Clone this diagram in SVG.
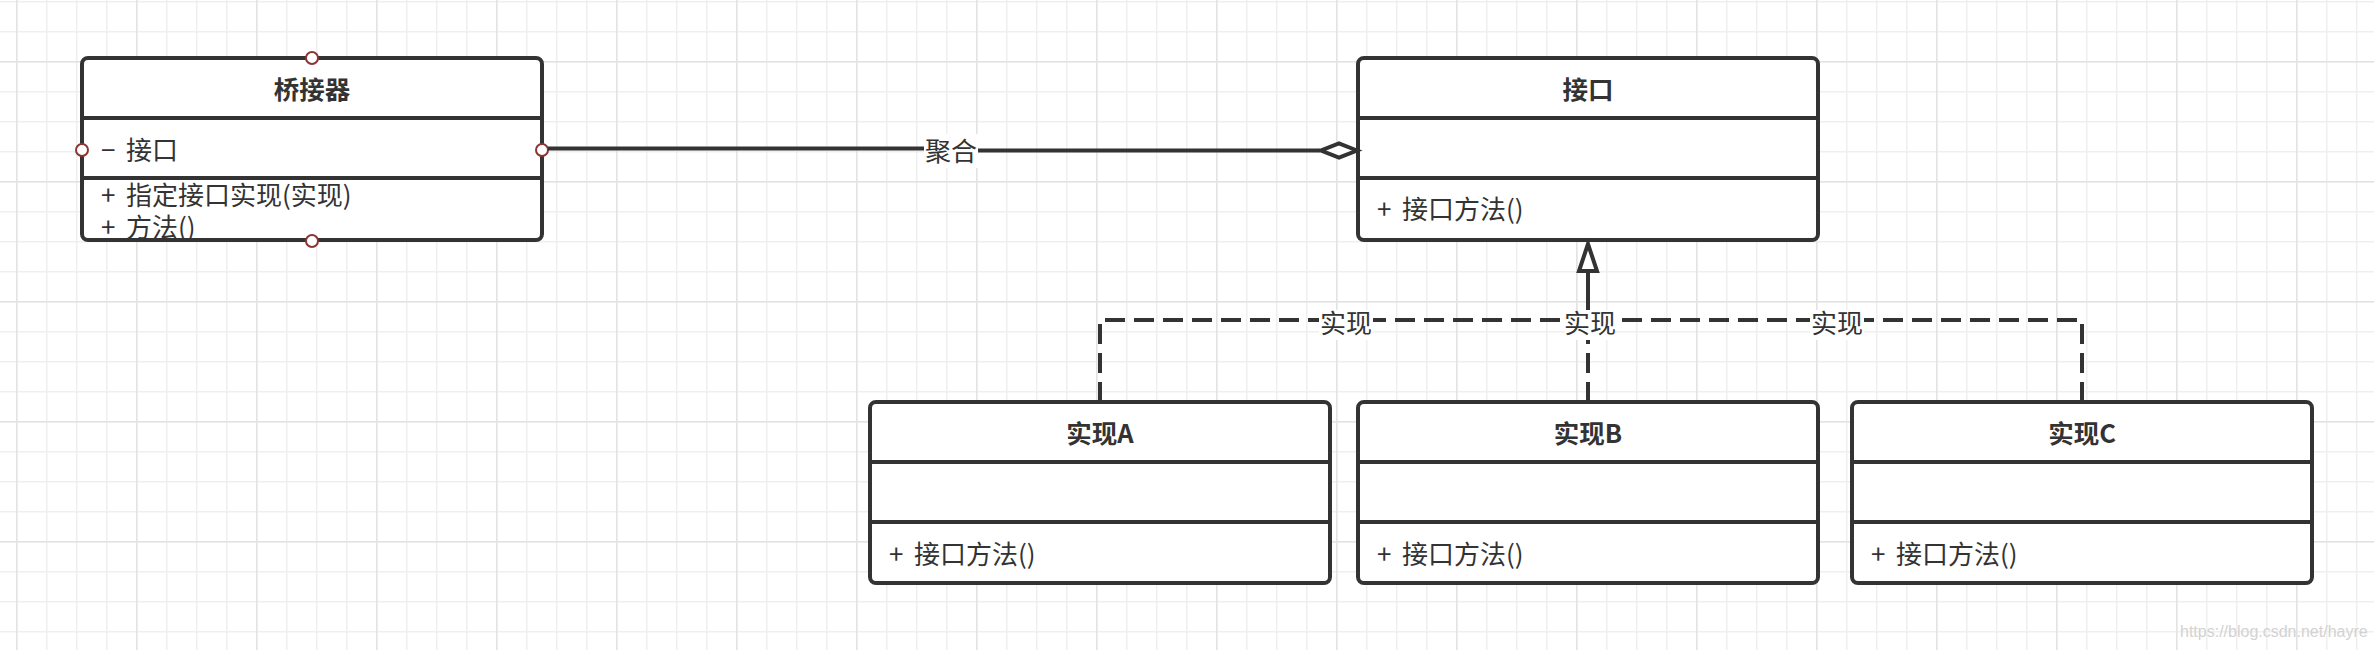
<svg xmlns="http://www.w3.org/2000/svg" width="2374" height="650" viewBox="0 0 2374 650">
<defs>
<pattern id="gMinor" width="30" height="30" patternUnits="userSpaceOnUse" x="16" y="1">
<path d="M0.75,0 V30 M0,0.75 H30" stroke="#efefef" stroke-width="1.5" fill="none"/>
</pattern>
<pattern id="gMajor" width="120" height="120" patternUnits="userSpaceOnUse" x="16" y="61">
<path d="M0.75,0 V120 M0,0.75 H120" stroke="#e3e3e3" stroke-width="1.5" fill="none"/>
</pattern>
<style>
.box{fill:#fff;stroke:#333;stroke-width:4}
.div{stroke:#333;stroke-width:4}
.hdr{font-family:"Noto Sans CJK SC","Noto Sans",sans-serif;font-size:25.5px;font-weight:bold;fill:#333;text-anchor:middle}
.txt{font-family:"Noto Sans CJK SC","Noto Sans",sans-serif;font-size:26px;fill:#333}
.lbl{font-family:"Noto Sans CJK SC","Noto Sans",sans-serif;font-size:26px;fill:#333;text-anchor:middle}
.edge{fill:none;stroke:#333;stroke-width:4}
.dash{stroke-dasharray:20 9}
.bg{fill:#fff}
.pt{fill:#fff;stroke:#8b3434;stroke-width:2}
.wm{font-family:"Liberation Sans",Arial,sans-serif;font-size:16px;fill:#d2d2d2}
</style>
</defs>
<rect width="2374" height="650" fill="#fff"/>
<rect width="2374" height="650" fill="url(#gMinor)"/>
<rect width="2374" height="650" fill="url(#gMajor)"/>

<g id="bridge">
<rect class="box" x="82" y="58" width="460" height="182" rx="6"/>
<line class="div" x1="82" y1="118" x2="542" y2="118"/>
<line class="div" x1="82" y1="178" x2="542" y2="178"/>
<text class="hdr" x="312" y="99">桥接器</text>
<text class="txt" y="159.5"><tspan x="101">− </tspan><tspan x="126">接口</tspan></text>
<text class="txt" y="205"><tspan x="101">+ </tspan><tspan x="126">指定接口实现(实现)</tspan></text>
<text class="txt" y="236.5"><tspan x="101">+ </tspan><tspan x="126">方法()</tspan></text>
<circle class="pt" cx="312" cy="58" r="6"/>
<circle class="pt" cx="82" cy="150" r="6"/>
<circle class="pt" cx="542" cy="150" r="6"/>
<circle class="pt" cx="312" cy="241" r="6"/>
</g>

<g id="interface">
<rect class="box" x="1358" y="58" width="460" height="182" rx="6"/>
<line class="div" x1="1358" y1="118" x2="1818" y2="118"/>
<line class="div" x1="1358" y1="178" x2="1818" y2="178"/>
<text class="hdr" x="1588" y="99">接口</text>
<text class="txt" y="219"><tspan x="1377">+ </tspan><tspan x="1402">接口方法()</tspan></text>
</g>

<g id="implA">
<rect class="box" x="870" y="402" width="460" height="181" rx="6"/>
<line class="div" x1="870" y1="462" x2="1330" y2="462"/>
<line class="div" x1="870" y1="522" x2="1330" y2="522"/>
<text class="hdr" x="1100" y="443">实现A</text>
<text class="txt" y="564"><tspan x="889">+ </tspan><tspan x="914">接口方法()</tspan></text>
</g>

<g id="implB">
<rect class="box" x="1358" y="402" width="460" height="181" rx="6"/>
<line class="div" x1="1358" y1="462" x2="1818" y2="462"/>
<line class="div" x1="1358" y1="522" x2="1818" y2="522"/>
<text class="hdr" x="1588" y="443">实现B</text>
<text class="txt" y="564"><tspan x="1377">+ </tspan><tspan x="1402">接口方法()</tspan></text>
</g>

<g id="implC">
<rect class="box" x="1852" y="402" width="460" height="181" rx="6"/>
<line class="div" x1="1852" y1="462" x2="2312" y2="462"/>
<line class="div" x1="1852" y1="522" x2="2312" y2="522"/>
<text class="hdr" x="2082" y="443">实现C</text>
<text class="txt" y="564"><tspan x="1871">+ </tspan><tspan x="1896">接口方法()</tspan></text>
</g>

<g id="connectors">
<g id="agg">
<path class="edge" d="M548,148.5 H950 V150.5 H1320"/>
<polygon points="1357,150.5 1339,143.5 1321,150.5 1339,157.5" fill="#fff" stroke="#333" stroke-width="4" stroke-linejoin="miter"/>
<rect class="bg" x="924" y="134" width="54" height="34"/>
<text class="lbl" x="951" y="161">聚合</text>
</g>
<g id="realA">
<path class="edge dash" d="M1100,402 V320 H1588 V272"/>
</g>
<g id="realC">
<path class="edge dash" d="M2082,402 V320 H1588 V272"/>
</g>
<g id="realB">
<path class="edge dash" d="M1588,402 V320"/>
<path class="edge" d="M1588,320 V272"/>
</g>
<polygon points="1588,244 1579,271 1597,271" fill="#fff" stroke="#333" stroke-width="4"/>
<rect class="bg" x="1319" y="310" width="54" height="30"/>
<text class="lbl" x="1346" y="333">实现</text>
<rect class="bg" x="1565" y="310" width="50" height="30"/>
<text class="lbl" x="1590" y="333">实现</text>
<rect class="bg" x="1810" y="310" width="54" height="30"/>
<text class="lbl" x="1837" y="333">实现</text>
</g>

<text class="wm" x="2180" y="637">https://blog.csdn.net/hayre</text>
</svg>
